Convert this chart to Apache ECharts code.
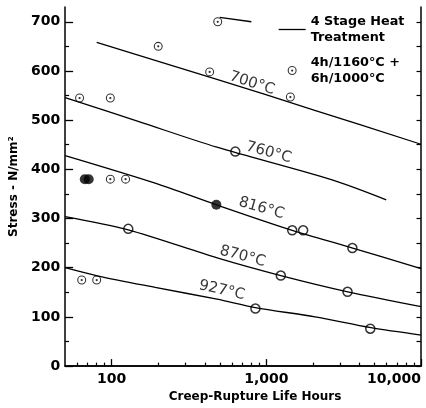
<!DOCTYPE html>
<html>
<head>
<meta charset="utf-8">
<script src="https://cdn.jsdelivr.net/npm/echarts@6/dist/echarts.min.js"></script>
<style>html,body{margin:0;padding:0;background:#fff}#c{width:426px;height:408px}</style>
</head>
<body>
<div id="c"></div>
<script>
// ---- data (hours, stress N/mm2) ----
const xMajorTicks = [100, 1000, 10000];
const xTickLabels = ['100', '1,000', '10,000'];
const xMinorTicks = [60, 70, 80, 90, 200, 300, 400, 500, 600, 700, 800, 900,
  2000, 3000, 4000, 5000, 6000, 7000, 8000, 9000];
const yMajorTicks = [0, 100, 200, 300, 400, 500, 600, 700];
const yMinorTicks = [50, 150, 250, 350, 450, 550, 650];
const yRightTicks = [0, 50, 100, 150, 200, 250, 300, 350, 400, 450, 500, 550, 600, 650, 700];

const curve700 = [[80, 658], [479, 583], [2055, 520], [10000, 451]];
const curve760 = [[50, 546], [150, 497], [479, 445], [2630, 379], [5960, 338]];
const curve816 = [[50, 428], [191, 372], [475, 328], [1470, 276], [3615, 240], [10000, 198]];
const curve870 = [[50, 304], [128, 277], [481, 220], [1240, 184], [3360, 151], [10000, 121]];
const curve927 = [[50, 200], [82, 183], [191, 160], [480, 136], [848, 119], [2065, 100], [4745, 78], [10000, 63]];
const curveTop = [[500, 709], [800, 700]];

const dottedPts = [[485, 700], [200, 650], [430, 598], [1430, 547], [62, 545], [98, 545],
  [98, 380], [123, 380], [64, 175], [80, 175]];
const plainPts = [[630, 436], [128, 279], [1470, 276], [1730, 276], [3600, 240],
  [1240, 184], [3350, 151], [850, 117], [4700, 76]];
const filledPts = [[67, 380], [71, 380], [475, 328]];

const curveLabels = [['700°C', 808, 575, -18], ['760°C', 1036, 434, -15], ['816°C', 929, 321, -16],
  ['870°C', 702, 223, -15], ['927°C', 516, 154, -13]];

const lineName = '4 Stage Heat\nTreatment';
const ptName = '4h/1160°C +\n6h/1000°C';

// ---- build ----
const L = v => Math.log10(v);
const toXY = arr => arr.map(p => [L(p[0]), p[1]]);
const FONT = 'DejaVu Sans';
const xMin = L(50), xMax = L(10000);
const ringPath = 'path://M10,0A10,10,0,1,1,10,20A10,10,0,1,1,10,0ZM10,2.4A7.6,7.6,0,1,0,10,17.6A7.6,7.6,0,1,0,10,2.4ZM10,7.5A2.5,2.5,0,1,1,10,12.5A2.5,2.5,0,1,1,10,7.5Z';

const lineSeries = [curve700, curve760, curve816, curve870, curve927, curveTop].map(c => ({
  type: 'line', name: lineName, data: toXY(c), symbol: 'none', smooth: 0.3,
  lineStyle: { color: '#000', width: 1.3 }, itemStyle: { color: '#000' }, z: 2
}));

const baseX = {
  type: 'value', min: xMin, max: xMax, splitLine: { show: false }
};
const baseY = {
  type: 'value', min: 0, max: 730, splitLine: { show: false }
};

const chart = echarts.init(document.getElementById('c'), null, { renderer: 'canvas' });
chart.setOption({
  animation: false,
  backgroundColor: '#fff',
  grid: { left: 58, right: 5, top: 7, bottom: 41 },
  legend: {
    data: [
      { name: lineName, itemStyle: { color: 'rgba(0,0,0,0)', borderWidth: 0, opacity: 0 }, lineStyle: { color: '#000', width: 1.3 } },
      { name: ptName }
    ],
    orient: 'vertical', left: 273, top: 8, padding: 5,
    itemWidth: 27, itemHeight: 9, itemGap: 8, selectedMode: false,
    textStyle: { fontFamily: FONT, fontWeight: 'bold', fontSize: 12.8, color: '#000', lineHeight: 16.5 }
  },
  xAxis: [
    Object.assign({}, baseX, {
      position: 'bottom',
      name: 'Creep-Rupture Life Hours', nameLocation: 'middle', nameGap: 24,
      nameTextStyle: { fontFamily: FONT, fontWeight: 'bold', fontSize: 12, color: '#000', padding: [0, 0, 0, 24] },
      axisLine: { show: true, lineStyle: { color: '#000', width: 1.5 } },
      axisTick: { show: true, inside: true, length: 7, customValues: xMajorTicks.map(L), lineStyle: { color: '#000', width: 1.3 } },
      axisLabel: {
        show: true, customValues: xMajorTicks.map(L), margin: 6, alignMaxLabel: 'right',
        fontFamily: FONT, fontWeight: 'bold', fontSize: 14, color: '#000',
        formatter: v => { const i = xMajorTicks.findIndex(t => Math.abs(L(t) - v) < 1e-6); return i >= 0 ? xTickLabels[i] : ''; }
      }
    }),
    Object.assign({}, baseX, {
      position: 'bottom',
      axisLine: { show: false },
      axisTick: { show: true, inside: true, length: 3.5, customValues: xMinorTicks.map(L), lineStyle: { color: '#000', width: 1.2 } },
      axisLabel: { show: false }
    }),
    Object.assign({}, baseX, {
      position: 'top',
      axisLine: { show: true, lineStyle: { color: '#000', width: 1.5 } },
      axisTick: { show: false }, axisLabel: { show: false }
    })
  ],
  yAxis: [
    Object.assign({}, baseY, {
      position: 'left',
      name: 'Stress - N/mm²', nameLocation: 'middle', nameGap: 38, nameRotate: 90,
      nameTextStyle: { fontFamily: FONT, fontWeight: 'bold', fontSize: 12, color: '#000' },
      axisLine: { show: true, lineStyle: { color: '#000', width: 1.5 } },
      axisTick: { show: true, inside: true, length: 8, customValues: yMajorTicks, lineStyle: { color: '#000', width: 1.3 } },
      axisLabel: { show: true, customValues: yMajorTicks, margin: 5, fontFamily: FONT, fontWeight: 'bold', fontSize: 14, color: '#000' }
    }),
    Object.assign({}, baseY, {
      position: 'left',
      axisLine: { show: false },
      axisTick: { show: true, inside: true, length: 4, customValues: yMinorTicks, lineStyle: { color: '#000', width: 1.2 } },
      axisLabel: { show: false }
    }),
    Object.assign({}, baseY, {
      position: 'right',
      axisLine: { show: true, lineStyle: { color: '#000', width: 1.5 } },
      axisTick: { show: true, inside: true, length: 4.5, customValues: yRightTicks, lineStyle: { color: '#000', width: 1.2 } },
      axisLabel: { show: false }
    })
  ],
  series: lineSeries.concat([
    {
      type: 'scatter', name: ptName, data: toXY(dottedPts), symbol: ringPath, symbolKeepAspect: true,
      symbolSize: 9, itemStyle: { color: '#000' }, z: 3
    },
    {
      type: 'scatter', name: 'plain', data: toXY(plainPts), symbol: 'circle', symbolSize: 9,
      itemStyle: { color: 'rgba(0,0,0,0)', borderColor: '#000', borderWidth: 1.5 }, z: 3
    },
    {
      type: 'scatter', name: 'filled', data: toXY(filledPts), symbol: 'circle', symbolSize: 10,
      itemStyle: { color: '#000' }, z: 3
    },
    {
      type: 'scatter', name: 'labels', symbolSize: 0, z: 4, silent: true,
      data: curveLabels.map(d => ({ value: [L(d[1]), d[2]], name: d[0], label: { rotate: d[3] } })),
      label: {
        show: true, position: 'inside', formatter: p => p.name,
        fontFamily: FONT, fontSize: 15, color: '#000', align: 'center', verticalAlign: 'middle'
      }
    }
  ])
});
</script>
</body>
</html>
